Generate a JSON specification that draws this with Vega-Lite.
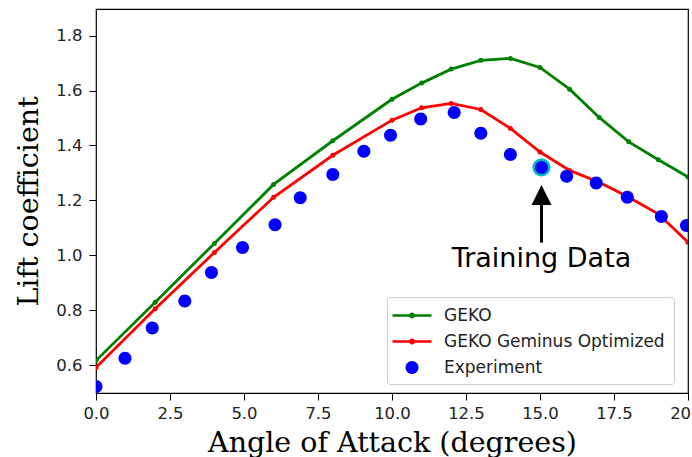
{
  "$schema": "https://vega.github.io/schema/vega-lite/v6.json",
  "width": 592,
  "height": 384,
  "autosize": "none",
  "padding": {"left": 96, "top": 9, "right": 4, "bottom": 64},
  "background": "white",
  "config": {
    "view": {"stroke": "#000", "strokeWidth": 1.2},
    "axis": {
      "domain": false,
      "grid": false,
      "ticks": true,
      "tickColor": "#000",
      "tickSize": 7,
      "tickWidth": 1,
      "labelFont": "DejaVu Sans",
      "labelFontSize": 16.5,
      "labelColor": "#222",
      "titleFont": "DejaVu Serif",
      "titleFontSize": 28.5,
      "titleFontWeight": "normal",
      "titleColor": "#000"
    },
    "legend": {
      "title": null, "orient": "none", "legendX": 291, "legendY": 288,
      "labelFont": "DejaVu Sans", "labelFontSize": 17, "labelColor": "#222", "labelLimit": 0,
      "fillColor": "white", "strokeColor": "#cccccc", "cornerRadius": 3,
      "padding": 8.5, "rowPadding": 8, "labelOffset": 22, "symbolSize": 400,
      "symbolStrokeWidth": 0, "symbolOpacity": 1, "symbolOffset": 6.5
    }
  },
  "datasets": {
    "curves": [
      {"series": "GEKO", "x": 0, "y": 0.616},
      {"series": "GEKO", "x": 2, "y": 0.829},
      {"series": "GEKO", "x": 4, "y": 1.043},
      {"series": "GEKO", "x": 6, "y": 1.258},
      {"series": "GEKO", "x": 8, "y": 1.417},
      {"series": "GEKO", "x": 10, "y": 1.568},
      {"series": "GEKO", "x": 11, "y": 1.627},
      {"series": "GEKO", "x": 12, "y": 1.678},
      {"series": "GEKO", "x": 13, "y": 1.710},
      {"series": "GEKO", "x": 14, "y": 1.717},
      {"series": "GEKO", "x": 15, "y": 1.684},
      {"series": "GEKO", "x": 16, "y": 1.605},
      {"series": "GEKO", "x": 17, "y": 1.502},
      {"series": "GEKO", "x": 18, "y": 1.413},
      {"series": "GEKO", "x": 19, "y": 1.348},
      {"series": "GEKO", "x": 20, "y": 1.285},
      {"series": "GEKO Geminus Optimized", "x": 0, "y": 0.591},
      {"series": "GEKO Geminus Optimized", "x": 2, "y": 0.805},
      {"series": "GEKO Geminus Optimized", "x": 4, "y": 1.010},
      {"series": "GEKO Geminus Optimized", "x": 6, "y": 1.211},
      {"series": "GEKO Geminus Optimized", "x": 8, "y": 1.364},
      {"series": "GEKO Geminus Optimized", "x": 10, "y": 1.492},
      {"series": "GEKO Geminus Optimized", "x": 11, "y": 1.537},
      {"series": "GEKO Geminus Optimized", "x": 12, "y": 1.553},
      {"series": "GEKO Geminus Optimized", "x": 13, "y": 1.531},
      {"series": "GEKO Geminus Optimized", "x": 14, "y": 1.462},
      {"series": "GEKO Geminus Optimized", "x": 15, "y": 1.376},
      {"series": "GEKO Geminus Optimized", "x": 16, "y": 1.309},
      {"series": "GEKO Geminus Optimized", "x": 17, "y": 1.266},
      {"series": "GEKO Geminus Optimized", "x": 18, "y": 1.211},
      {"series": "GEKO Geminus Optimized", "x": 19, "y": 1.150},
      {"series": "GEKO Geminus Optimized", "x": 20, "y": 1.047}
    ],
    "experiment": [
      {"series": "Experiment", "x": 0.0, "y": 0.522},
      {"series": "Experiment", "x": 0.98, "y": 0.625},
      {"series": "Experiment", "x": 1.9, "y": 0.735},
      {"series": "Experiment", "x": 3.0, "y": 0.833},
      {"series": "Experiment", "x": 3.9, "y": 0.937},
      {"series": "Experiment", "x": 4.95, "y": 1.028},
      {"series": "Experiment", "x": 6.05, "y": 1.111},
      {"series": "Experiment", "x": 6.9, "y": 1.209},
      {"series": "Experiment", "x": 8.0, "y": 1.294},
      {"series": "Experiment", "x": 9.05, "y": 1.379},
      {"series": "Experiment", "x": 9.95, "y": 1.437},
      {"series": "Experiment", "x": 10.97, "y": 1.496},
      {"series": "Experiment", "x": 12.1, "y": 1.520},
      {"series": "Experiment", "x": 13.0, "y": 1.444},
      {"series": "Experiment", "x": 14.0, "y": 1.367},
      {"series": "Experiment", "x": 15.05, "y": 1.320},
      {"series": "Experiment", "x": 15.9, "y": 1.288},
      {"series": "Experiment", "x": 16.9, "y": 1.263},
      {"series": "Experiment", "x": 17.95, "y": 1.211},
      {"series": "Experiment", "x": 19.1, "y": 1.141},
      {"series": "Experiment", "x": 19.95, "y": 1.108}
    ],
    "training": [
      {"x": 15.05, "y": 1.320, "shaft_top": 1.19, "shaft_bottom": 1.046, "head": 1.219, "label_y": 0.957, "label": "Training Data"}
    ]
  },
  "encoding": {
    "x": {
      "field": "x", "type": "quantitative",
      "scale": {"domain": [0, 20], "nice": false, "zero": false},
      "axis": {"values": [0, 2.5, 5, 7.5, 10, 12.5, 15, 17.5, 20], "format": ".1f", "labelPadding": 5, "title": "Angle of Attack (degrees)", "titlePadding": 7, "labelFlush": false, "labelOverlap": false}
    },
    "y": {
      "field": "y", "type": "quantitative",
      "scale": {"domain": [0.498, 1.897], "nice": false, "zero": false},
      "axis": {"values": [0.6, 0.8, 1.0, 1.2, 1.4, 1.6, 1.8], "format": ".1f", "labelPadding": 7, "title": "Lift coefficient", "titlePadding": 12}
    }
  },
  "layer": [
    {
      "data": {"name": "curves"},
      "mark": {"type": "line", "strokeWidth": 2.8, "clip": true},
      "encoding": {
        "color": {"field": "series", "type": "nominal",
          "scale": {"domain": ["GEKO", "GEKO Geminus Optimized", "Experiment"], "range": ["#008000", "#ff0000", "#0000ff"]}}
      }
    },
    {
      "data": {"name": "curves"},
      "mark": {"type": "point", "filled": true, "opacity": 1, "size": 25, "shape": "circle", "clip": true},
      "encoding": {
        "color": {"field": "series", "type": "nominal"}
      }
    },
    {
      "data": {"name": "training"},
      "mark": {"type": "point", "filled": true, "opacity": 1, "size": 330, "shape": "circle", "color": "#00bfbf"},
      "encoding": {}
    },
    {
      "data": {"name": "experiment"},
      "mark": {"type": "point", "filled": true, "opacity": 1, "size": 400, "strokeWidth": 0, "clip": true},
      "encoding": {
        "color": {"field": "series", "type": "nominal"},
        "shape": {"field": "series", "type": "nominal",
          "scale": {"domain": ["GEKO", "GEKO Geminus Optimized", "Experiment"],
            "range": [
              "M-1.95,-0.13L1.95,-0.13L1.95,0.13L-1.95,0.13Z M-0.3,0A0.3,0.3 0 1,1 0.3,0A0.3,0.3 0 1,1 -0.3,0Z",
              "M-1.95,-0.13L1.95,-0.13L1.95,0.13L-1.95,0.13Z M-0.3,0A0.3,0.3 0 1,1 0.3,0A0.3,0.3 0 1,1 -0.3,0Z",
              "M-0.65,0A0.65,0.65 0 1,1 0.65,0A0.65,0.65 0 1,1 -0.65,0Z"
            ]}
        }
      }
    },
    {
      "data": {"name": "training"},
      "mark": {"type": "rule", "color": "#000", "strokeWidth": 3},
      "encoding": {
        "y": {"field": "shaft_bottom", "type": "quantitative"},
        "y2": {"field": "shaft_top"}
      }
    },
    {
      "data": {"name": "training"},
      "mark": {"type": "point", "filled": true, "opacity": 1, "size": 400, "color": "#000", "shape": "M0,-1L-1,1L1,1Z"},
      "encoding": {
        "y": {"field": "head", "type": "quantitative"}
      }
    },
    {
      "data": {"name": "training"},
      "mark": {"type": "text", "font": "DejaVu Sans", "fontSize": 27, "color": "#000", "align": "center", "baseline": "alphabetic"},
      "encoding": {
        "y": {"field": "label_y", "type": "quantitative"},
        "text": {"field": "label"}
      }
    }
  ]
}
